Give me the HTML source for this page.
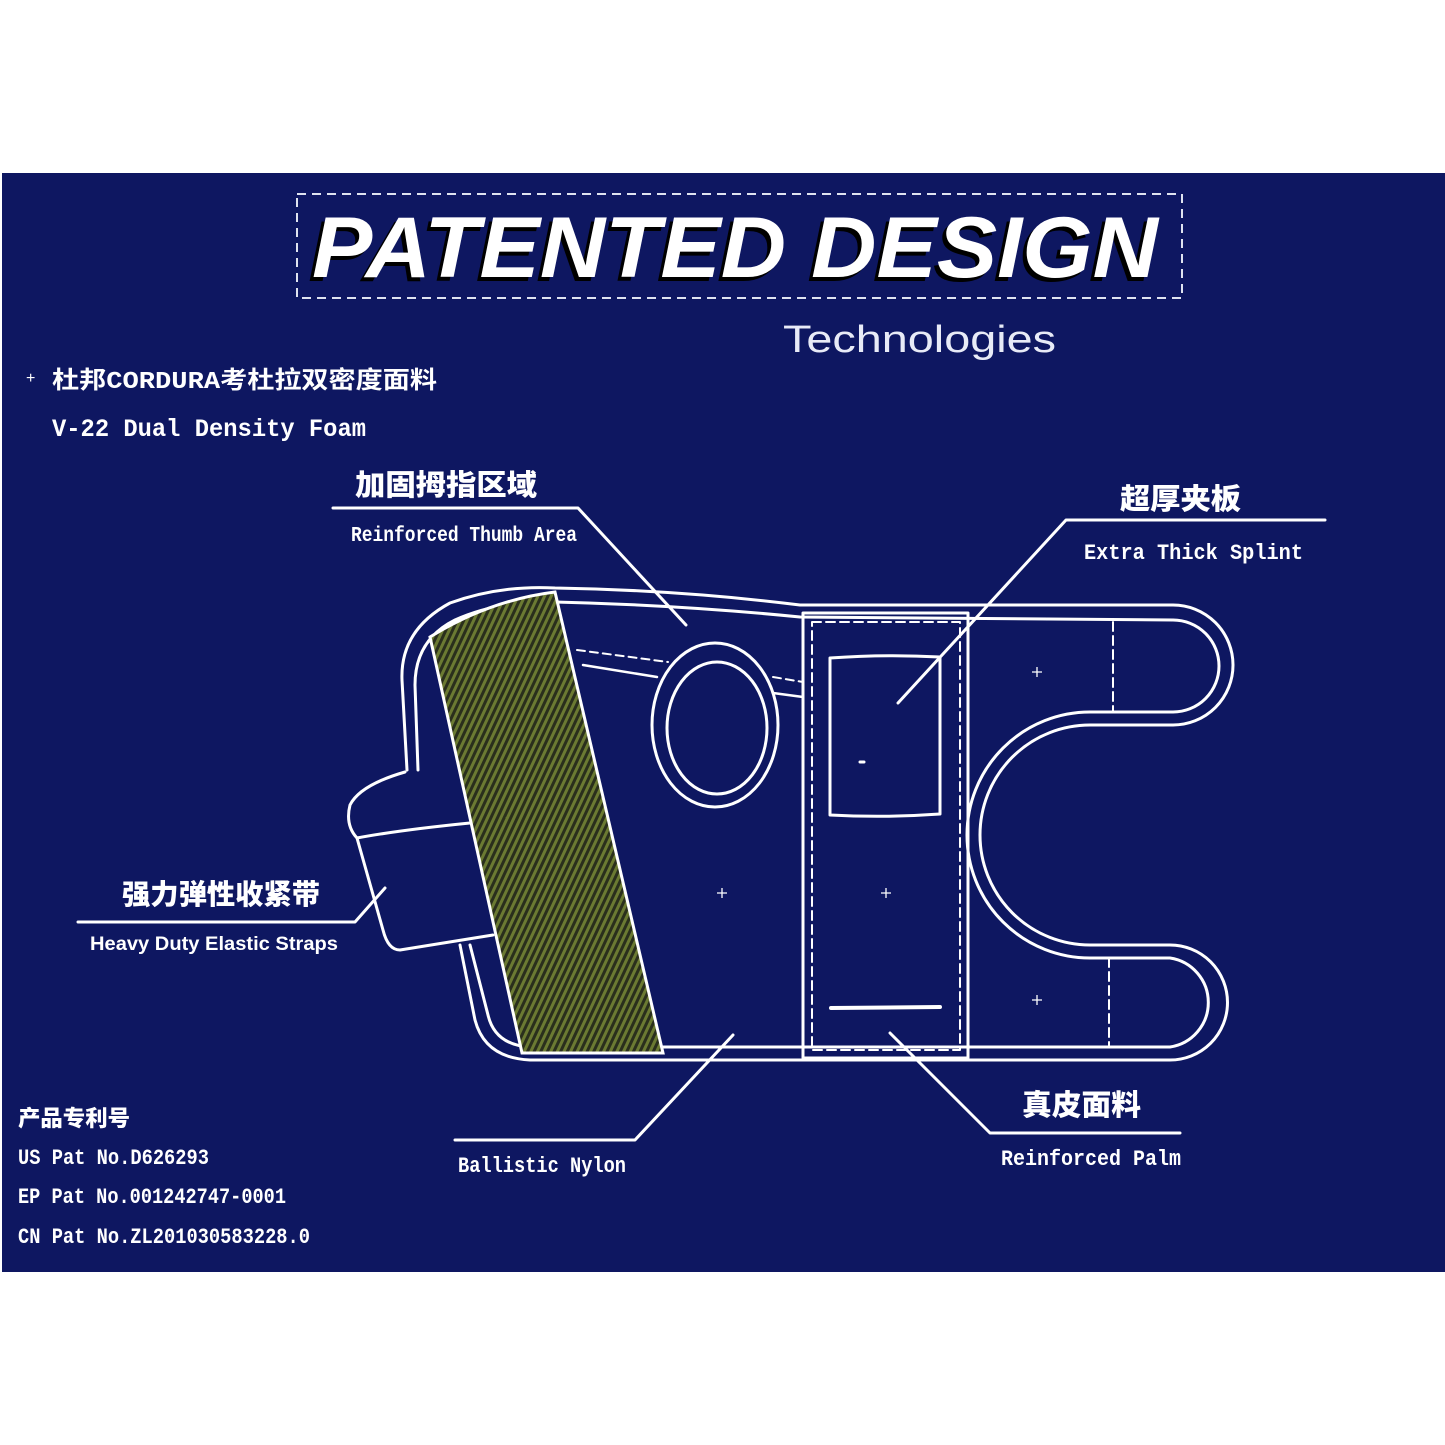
<!DOCTYPE html>
<html><head><meta charset="utf-8"><style>
html,body{margin:0;padding:0;background:#fff;}
svg{display:block;}
.m{font-family:"Liberation Mono","Noto Sans CJK SC",monospace;font-weight:bold;fill:#fff;}
.c{font-family:"Liberation Sans","Noto Sans CJK SC",sans-serif;font-weight:900;fill:#fff;}
</style></head><body>
<svg width="1445" height="1445" viewBox="0 0 1445 1445" xmlns="http://www.w3.org/2000/svg">
<defs>
<pattern id="vel" width="6" height="6" patternUnits="userSpaceOnUse" patternTransform="rotate(25)">
<rect width="6" height="6" fill="#2a2f1c"/>
<rect width="3" height="6" fill="#6b7a32"/>
</pattern>
</defs>
<rect x="0" y="0" width="1445" height="1445" fill="#fff"/>
<rect x="2" y="173" width="1443" height="1099" fill="#0e1761"/>

<!-- title box -->
<rect x="297" y="194" width="885" height="104" fill="none" stroke="#dfe3f0" stroke-width="2" stroke-dasharray="9,6"/>
<text x="308" y="281" font-family="Liberation Sans" font-weight="bold" font-style="italic" font-size="86" textLength="846" lengthAdjust="spacingAndGlyphs" fill="#000">PATENTED DESIGN</text>
<text x="312" y="277" font-family="Liberation Sans" font-weight="bold" font-style="italic" font-size="86" textLength="846" lengthAdjust="spacingAndGlyphs" fill="#fff">PATENTED DESIGN</text>
<text x="783" y="352" font-family="Liberation Sans" font-size="38" textLength="273" lengthAdjust="spacingAndGlyphs" fill="#e8ebf7">Technologies</text>

<text x="26" y="383" font-family="Liberation Sans" font-size="16" fill="#fff">+</text>
<text class="m" x="52" y="388" font-size="24" textLength="385" lengthAdjust="spacingAndGlyphs">杜邦CORDURA考杜拉双密度面料</text>
<text class="m" x="52" y="436" font-size="25" textLength="314" lengthAdjust="spacingAndGlyphs">V-22 Dual Density Foam</text>

<text class="c" x="355" y="495" font-size="29" textLength="182" lengthAdjust="spacingAndGlyphs">加固拇指区域</text>
<text class="m" x="351" y="541" font-size="21" textLength="226" lengthAdjust="spacingAndGlyphs">Reinforced Thumb Area</text>
<text class="c" x="1120" y="509" font-size="29" textLength="121" lengthAdjust="spacingAndGlyphs">超厚夹板</text>
<text class="m" x="1084" y="559" font-size="22" textLength="219" lengthAdjust="spacingAndGlyphs">Extra Thick Splint</text>
<text class="c" x="122" y="904" font-size="28" textLength="198" lengthAdjust="spacingAndGlyphs">强力弹性收紧带</text>
<text x="90" y="950" font-family="Liberation Sans" font-weight="bold" font-size="19" textLength="248" lengthAdjust="spacingAndGlyphs" fill="#fff">Heavy Duty Elastic Straps</text>
<text class="c" x="18" y="1126" font-size="22" textLength="112" lengthAdjust="spacingAndGlyphs">产品专利号</text>
<text class="m" x="18" y="1164" font-size="22" textLength="191" lengthAdjust="spacingAndGlyphs">US Pat No.D626293</text>
<text class="m" x="18" y="1203" font-size="22" textLength="268" lengthAdjust="spacingAndGlyphs">EP Pat No.001242747-0001</text>
<text class="m" x="18" y="1243" font-size="22" textLength="292" lengthAdjust="spacingAndGlyphs">CN Pat No.ZL201030583228.0</text>
<text class="m" x="458" y="1172" font-size="22" textLength="168" lengthAdjust="spacingAndGlyphs">Ballistic Nylon</text>
<text class="c" x="1022" y="1115" font-size="29" textLength="119" lengthAdjust="spacingAndGlyphs">真皮面料</text>
<text class="m" x="1001" y="1165" font-size="22" textLength="180" lengthAdjust="spacingAndGlyphs">Reinforced Palm</text>

<g fill="none" stroke="#fff" stroke-width="3" stroke-linecap="round" stroke-linejoin="round">
<!-- leader lines -->
<polyline points="333,508 578,508 686,625"/>
<polyline points="1325,520 1066,520 898,703"/>
<polyline points="78,922 355,922 385,888"/>
<polyline points="455,1140 635,1140 733,1035"/>
<polyline points="1180,1133 990,1133 890,1033"/>

<!-- outer contour -->
<path d="M407,770 L402,680 Q400,630 450,603 Q500,585 555,588 Q680,590 800,605 L1173,605 A60,60 0 0 1 1173,725 L1090,725 A110,110 0 0 0 1090,945 L1170,945 A57,57 0 0 1 1170,1060 L530,1060 Q485,1058 475,1020 L460,945"/>
<!-- inner contour -->
<path d="M418,770 L415,685 Q415,640 455,620 Q500,600 555,602 Q680,605 800,617 L1173,620 A45,45 0 0 1 1173,712 L1090,712 A123,123 0 0 0 1090,958 L1170,958 A45,45 0 0 1 1170,1047 L530,1047 Q495,1045 488,1015 L470,945"/>
<!-- strap -->
<path d="M405,772 Q360,785 350,805 Q345,825 357,838 L383,930 Q388,950 400,950 L493,935"/>
<path d="M357,838 Q400,830 470,823"/>

<!-- thumb hole -->
<ellipse cx="715" cy="725" rx="63" ry="82"/>
<ellipse cx="717" cy="728" rx="50" ry="66"/>
<path d="M583,665 L657,677" stroke-width="2.5"/>
<path d="M773,693 L803,697" stroke-width="2.5"/>
<path d="M577,650 L668,662" stroke-width="2" stroke-dasharray="8,5"/>
<path d="M773,677 L803,682" stroke-width="2" stroke-dasharray="8,5"/>

<!-- splint panel -->
<rect x="803" y="613" width="165" height="445"/>
<rect x="812" y="622" width="148" height="428" stroke-width="2" stroke-dasharray="9,5"/>
<path d="M830,658 Q885,654 940,657 L940,814 Q885,818 830,815 Z"/>
<line x1="831" y1="1008" x2="940" y2="1007" stroke-width="4"/>
<line x1="860" y1="762" x2="864" y2="762" stroke-width="3"/>
<!-- dashed finger lines -->
<line x1="1113" y1="622" x2="1113" y2="712" stroke-width="2" stroke-dasharray="9,5"/>
<line x1="1109" y1="958" x2="1109" y2="1047" stroke-width="2" stroke-dasharray="9,5"/>
</g>

<!-- velcro band -->
<path d="M430,637 Q490,600 555,592 L663,1053 L522,1053 Z" fill="url(#vel)" stroke="#fff" stroke-width="3"/>

<g stroke="#fff" stroke-width="1.3">
<path d="M717,893 h10 M722,888 v10"/>
<path d="M881,893 h10 M886,888 v10"/>
<path d="M1032,672 h10 M1037,667 v10"/>
<path d="M1032,1000 h10 M1037,995 v10"/>
</g>
</svg>
</body></html>
